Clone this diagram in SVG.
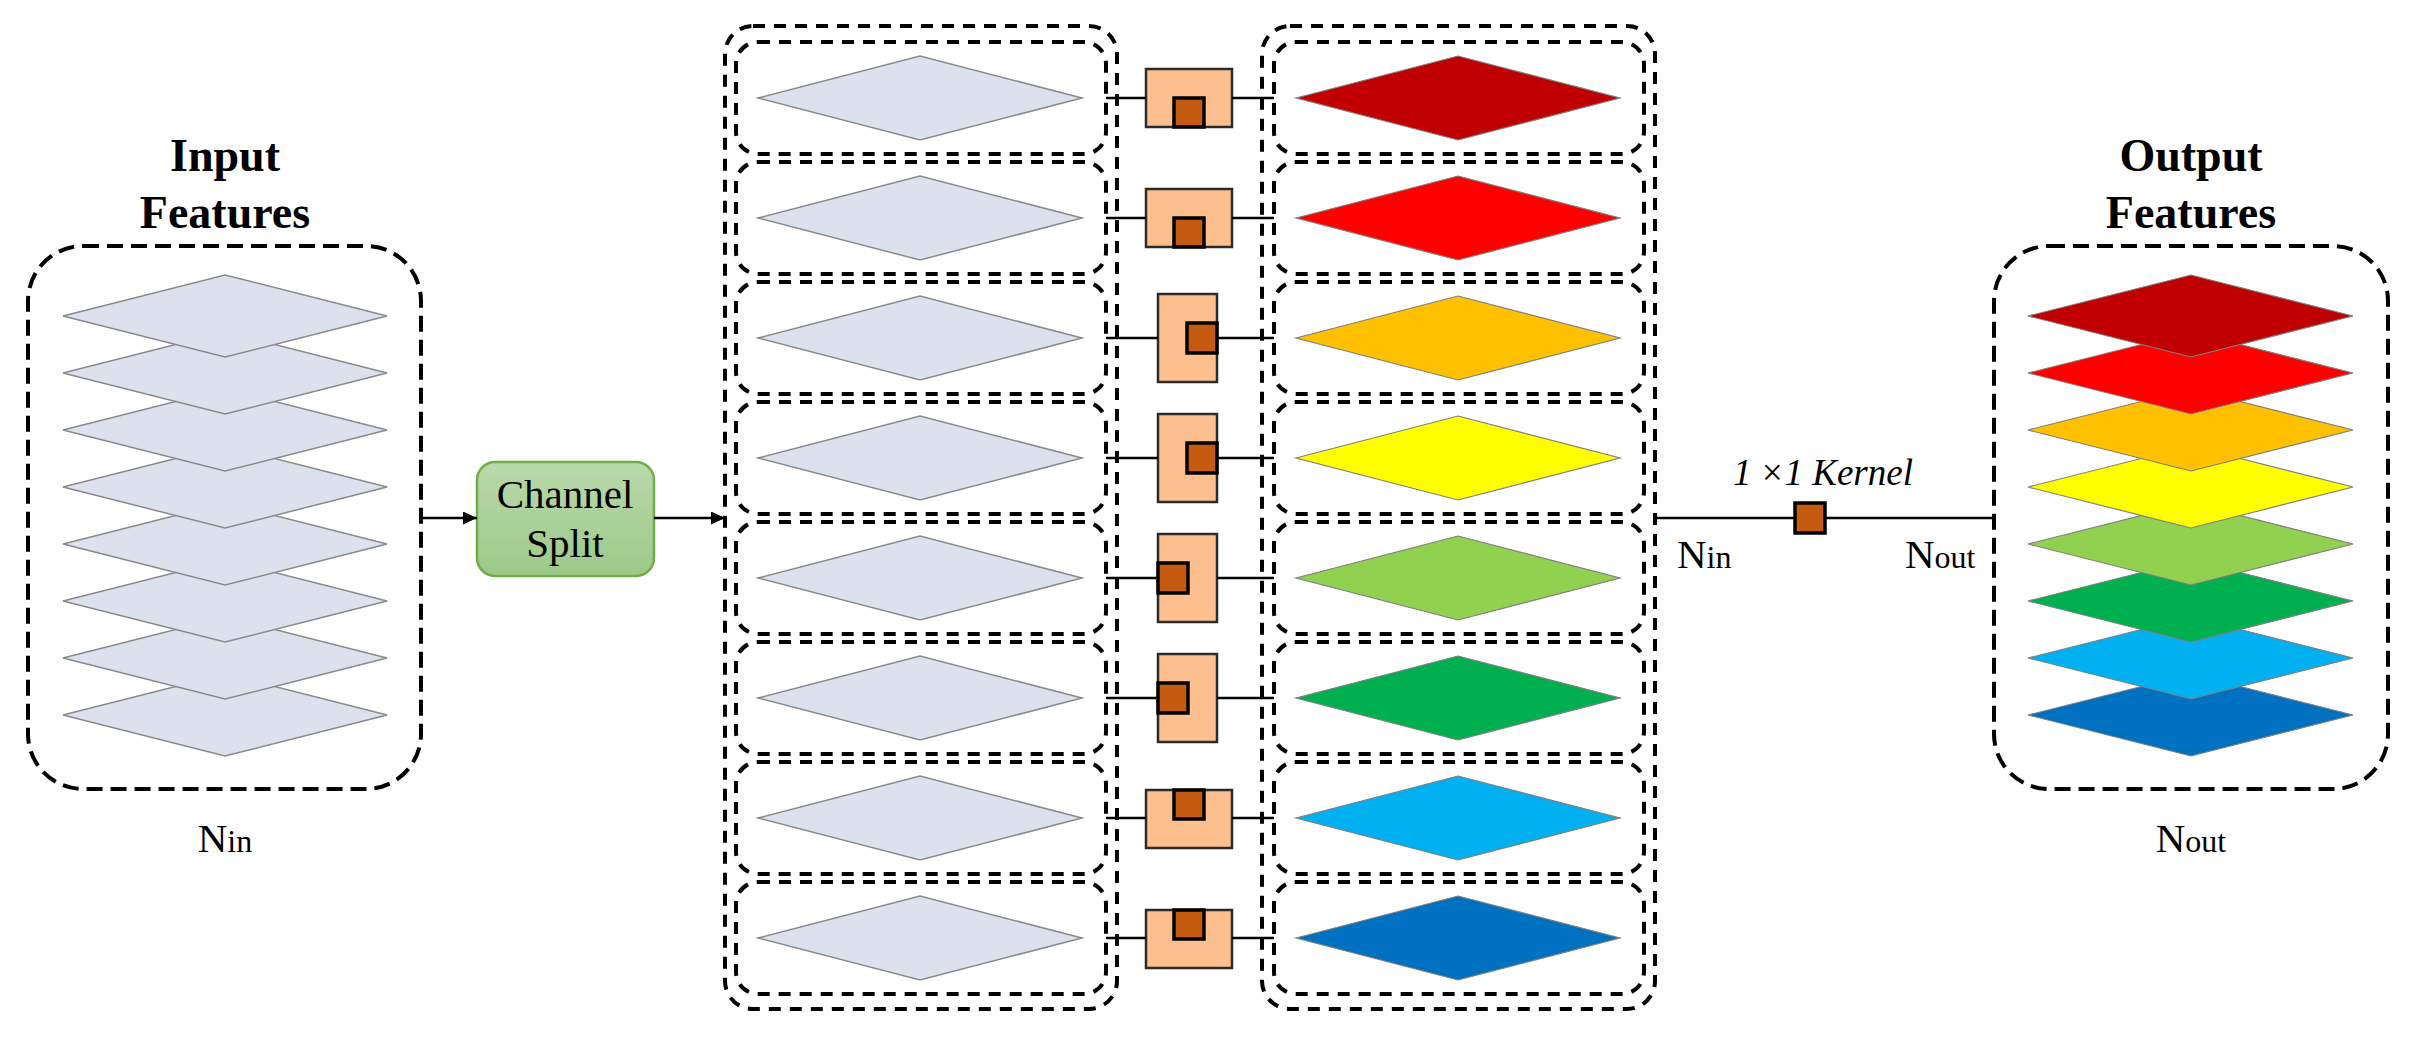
<svg xmlns="http://www.w3.org/2000/svg" width="2415" height="1039" viewBox="0 0 2415 1039">
<defs>
<style>
.bigdash{fill:none;stroke:#000;stroke-width:4;stroke-dasharray:16 8}
.dash{fill:none;stroke:#000;stroke-width:4;stroke-dasharray:12 9}
.gd{fill:#dbe2ee;stroke:#8a8a8a;stroke-width:1.5}
.cd{stroke:#7f7f7f;stroke-width:1.2}
.ob{fill:#fdbf8e;stroke:#2b2b2b;stroke-width:2.5}
.ks{fill:#c55a11;stroke:#000;stroke-width:3.5}
.ln{stroke:#000;stroke-width:2.5;fill:none}
.hd{font-family:"Liberation Serif","Times New Roman",serif;font-weight:bold;font-size:46px;text-anchor:middle}
.tx{font-family:"Liberation Serif","Times New Roman",serif;font-size:41px}
.nl{font-family:"Liberation Serif","Times New Roman",serif;font-size:41px}
.sb{font-size:32px}
</style>
<linearGradient id="gg" x1="0" y1="0" x2="0" y2="1">
<stop offset="0" stop-color="#b9d9aa"/>
<stop offset="1" stop-color="#9cc98a"/>
</linearGradient>
<marker id="arr" markerUnits="userSpaceOnUse" markerWidth="15" markerHeight="14" refX="14" refY="6.5" orient="auto">
<path d="M0,0 L14,6.5 L0,13 z" fill="#000"/>
</marker>
</defs>
<rect width="2415" height="1039" fill="#fff"/>

<g id="input-features">
<text class="hd" x="225" y="171">Input</text>
<text class="hd" x="225" y="228">Features</text>
<rect class="bigdash" x="28" y="246" width="393" height="543" rx="55"/>
<polygon class="gd" points="63,715 225,674 387,715 225,756"/>
<polygon class="gd" points="63,658 225,617 387,658 225,699"/>
<polygon class="gd" points="63,601 225,560 387,601 225,642"/>
<polygon class="gd" points="63,544 225,503 387,544 225,585"/>
<polygon class="gd" points="63,487 225,446 387,487 225,528"/>
<polygon class="gd" points="63,430 225,389 387,430 225,471"/>
<polygon class="gd" points="63,373 225,332 387,373 225,414"/>
<polygon class="gd" points="63,316 225,275 387,316 225,357"/>
<text class="nl" x="225" y="852" text-anchor="middle">N<tspan class="sb">in</tspan></text>
</g>

<g id="channel-split">
<rect x="477" y="462" width="177" height="114" rx="18" fill="url(#gg)" stroke="#70ad47" stroke-width="2.5"/>
<text class="tx" x="565" y="508" text-anchor="middle">Channel</text>
<text class="tx" x="565" y="557" text-anchor="middle">Split</text>
</g>

<g id="split-groups">
<rect class="dash" x="725" y="26" width="392" height="983" rx="28"/>
<rect class="dash" x="736" y="42" width="370" height="112" rx="22"/>
<rect class="dash" x="736" y="162" width="370" height="112" rx="22"/>
<rect class="dash" x="736" y="282" width="370" height="112" rx="22"/>
<rect class="dash" x="736" y="402" width="370" height="112" rx="22"/>
<rect class="dash" x="736" y="522" width="370" height="112" rx="22"/>
<rect class="dash" x="736" y="642" width="370" height="112" rx="22"/>
<rect class="dash" x="736" y="762" width="370" height="112" rx="22"/>
<rect class="dash" x="736" y="882" width="370" height="112" rx="22"/>
<polygon class="gd" points="758,98 920,56 1082,98 920,140"/>
<polygon class="gd" points="758,218 920,176 1082,218 920,260"/>
<polygon class="gd" points="758,338 920,296 1082,338 920,380"/>
<polygon class="gd" points="758,458 920,416 1082,458 920,500"/>
<polygon class="gd" points="758,578 920,536 1082,578 920,620"/>
<polygon class="gd" points="758,698 920,656 1082,698 920,740"/>
<polygon class="gd" points="758,818 920,776 1082,818 920,860"/>
<polygon class="gd" points="758,938 920,896 1082,938 920,980"/>
</g>

<g id="kernels">
<rect class="ob" x="1146" y="69" width="86" height="58"/><rect class="ks" x="1174" y="98" width="30" height="29"/>
<rect class="ob" x="1146" y="189" width="86" height="58"/><rect class="ks" x="1174" y="218" width="30" height="29"/>
<rect class="ob" x="1158" y="294" width="59" height="88"/><rect class="ks" x="1187" y="323" width="30" height="30"/>
<rect class="ob" x="1158" y="414" width="59" height="88"/><rect class="ks" x="1187" y="443" width="30" height="30"/>
<rect class="ob" x="1158" y="534" width="59" height="88"/><rect class="ks" x="1158" y="563" width="30" height="30"/>
<rect class="ob" x="1158" y="654" width="59" height="88"/><rect class="ks" x="1158" y="683" width="30" height="30"/>
<rect class="ob" x="1146" y="790" width="86" height="58"/><rect class="ks" x="1174" y="790" width="30" height="29"/>
<rect class="ob" x="1146" y="910" width="86" height="58"/><rect class="ks" x="1174" y="910" width="30" height="29"/>
</g>

<g id="conv-groups">
<rect class="dash" x="1262" y="26" width="393" height="983" rx="28"/>
<rect class="dash" x="1274" y="42" width="370" height="112" rx="22"/>
<rect class="dash" x="1274" y="162" width="370" height="112" rx="22"/>
<rect class="dash" x="1274" y="282" width="370" height="112" rx="22"/>
<rect class="dash" x="1274" y="402" width="370" height="112" rx="22"/>
<rect class="dash" x="1274" y="522" width="370" height="112" rx="22"/>
<rect class="dash" x="1274" y="642" width="370" height="112" rx="22"/>
<rect class="dash" x="1274" y="762" width="370" height="112" rx="22"/>
<rect class="dash" x="1274" y="882" width="370" height="112" rx="22"/>
<polygon class="cd" fill="#c00000" points="1296,98 1458,56 1620,98 1458,140"/>
<polygon class="cd" fill="#ff0000" points="1296,218 1458,176 1620,218 1458,260"/>
<polygon class="cd" fill="#ffc000" points="1296,338 1458,296 1620,338 1458,380"/>
<polygon class="cd" fill="#ffff00" points="1296,458 1458,416 1620,458 1458,500"/>
<polygon class="cd" fill="#92d050" points="1296,578 1458,536 1620,578 1458,620"/>
<polygon class="cd" fill="#00b050" points="1296,698 1458,656 1620,698 1458,740"/>
<polygon class="cd" fill="#00b0f0" points="1296,818 1458,776 1620,818 1458,860"/>
<polygon class="cd" fill="#0070c0" points="1296,938 1458,896 1620,938 1458,980"/>
</g>

<g id="connectors">
<line class="ln" x1="421" y1="518" x2="477" y2="518" marker-end="url(#arr)"/>
<line class="ln" x1="654" y1="518" x2="725" y2="518" marker-end="url(#arr)"/>
<path class="ln" d="M1106,98H1146M1232,98H1274M1106,218H1146M1232,218H1274M1106,338H1158M1217,338H1274M1106,458H1158M1217,458H1274M1106,578H1158M1217,578H1274M1106,698H1158M1217,698H1274M1106,818H1146M1232,818H1274M1106,938H1146M1232,938H1274"/>
<line class="ln" x1="1655" y1="518" x2="1994" y2="518"/>
</g>

<g id="pointwise-kernel">
<rect class="ks" x="1795" y="503" width="30" height="30"/>
<text x="1733" y="485" font-family="Liberation Serif, Times New Roman, serif" font-style="italic" font-size="37">1<tspan dx="8">×1 Kernel</tspan></text>
<text class="nl" x="1677" y="568">N<tspan class="sb">in</tspan></text>
<text class="nl" x="1905" y="568">N<tspan class="sb">out</tspan></text>
</g>

<g id="output-features">
<text class="hd" x="2191" y="171">Output</text>
<text class="hd" x="2191" y="228">Features</text>
<rect class="bigdash" x="1994" y="246" width="394" height="543" rx="55"/>
<polygon class="cd" fill="#0070c0" points="2028,715 2191,674 2353,715 2191,756"/>
<polygon class="cd" fill="#00b0f0" points="2028,658 2191,617 2353,658 2191,699"/>
<polygon class="cd" fill="#00b050" points="2028,601 2191,560 2353,601 2191,642"/>
<polygon class="cd" fill="#92d050" points="2028,544 2191,503 2353,544 2191,585"/>
<polygon class="cd" fill="#ffff00" points="2028,487 2191,446 2353,487 2191,528"/>
<polygon class="cd" fill="#ffc000" points="2028,430 2191,389 2353,430 2191,471"/>
<polygon class="cd" fill="#ff0000" points="2028,373 2191,332 2353,373 2191,414"/>
<polygon class="cd" fill="#c00000" points="2028,316 2191,275 2353,316 2191,357"/>
<text class="nl" x="2191" y="852" text-anchor="middle">N<tspan class="sb">out</tspan></text>
</g>
</svg>
